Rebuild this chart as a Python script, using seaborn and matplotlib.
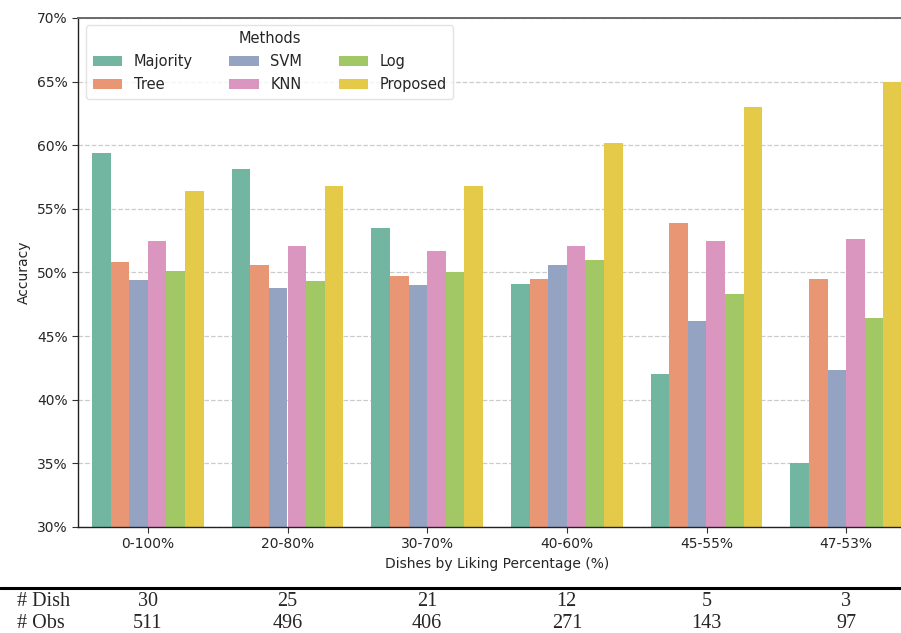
import matplotlib
matplotlib.use("Agg")
import matplotlib.pyplot as plt
import matplotlib.transforms as mtransforms
from matplotlib.ticker import FuncFormatter
import numpy as np
import pandas as pd
import seaborn as sns

# Liking-percentage bins and accuracy (%) per method
bins = ["0-100%", "20-80%", "30-70%", "40-60%", "45-55%", "47-53%"]
methods = ["Majority", "Tree", "SVM", "KNN", "Log", "Proposed"]
majority = [59.4, 58.1, 53.5, 49.1, 42.0, 35.0]
tree = [50.8, 50.6, 49.7, 49.5, 53.9, 49.5]
svm = [49.4, 48.8, 49.0, 50.6, 46.2, 42.3]
knn = [52.5, 52.1, 51.7, 52.1, 52.5, 52.6]
log_reg = [50.1, 49.3, 50.0, 51.0, 48.3, 46.4]
proposed = [56.4, 56.8, 56.8, 60.2, 63.0, 65.0]

# Counts shown under each bin
n_dish = [30, 25, 21, 12, 5, 3]
n_obs = [511, 496, 406, 271, 143, 97]

scores = dict(zip(methods, [majority, tree, svm, knn, log_reg, proposed]))
df = pd.DataFrame(
    [(b, m, scores[m][i]) for m in methods for i, b in enumerate(bins)],
    columns=["bin", "Methods", "acc"],
)

sns.set_style("ticks")
plt.rcParams["font.family"] = ["DejaVu Sans"]

fig = plt.figure(figsize=(9.01, 6.33), dpi=100)
ax = fig.add_axes([78 / 901, 1 - 527 / 633, 838 / 901, 509 / 633])

sns.barplot(data=df, x="bin", y="acc", hue="Methods", order=bins,
            hue_order=methods, palette="Set2", ax=ax, linewidth=0)

ax.set_ylim(30, 70)
ax.set_xlim(-0.5, 5.5)
ax.set_yticks(np.arange(30, 71, 5))
ax.yaxis.set_major_formatter(FuncFormatter(lambda v, p: f"{v:.0f}%"))
ax.yaxis.grid(True, linestyle="--", color="#cccccc", linewidth=0.9)
ax.set_axisbelow(True)
ax.tick_params(axis="both", labelsize=10, length=4, color="#333333",
               labelcolor="#262626")
ax.set_xlabel("Dishes by Liking Percentage (%)", fontsize=10, color="#262626")
ax.set_ylabel("Accuracy", fontsize=10, color="#262626")

for side in ["left", "bottom"]:
    ax.spines[side].set_color("#222222")
    ax.spines[side].set_linewidth(1.0)
ax.spines["top"].set_color("#6a6a6a")
ax.spines["top"].set_linewidth(1.4)
ax.spines["right"].set_visible(False)

leg = ax.legend(title="Methods", ncol=3, loc="upper left",
                bbox_to_anchor=(0.01, 0.987), borderaxespad=0,
                fontsize=10.5, title_fontsize=10.5, frameon=True,
                columnspacing=2.5, handlelength=2.0, handleheight=0.6,
                borderpad=0.45, labelspacing=0.55)
leg.get_frame().set_edgecolor("#dddddd")

# Count table below the chart
serif = ["Liberation Serif", "DejaVu Serif"]
fig.add_artist(plt.Line2D([0, 1], [1 - 588 / 633, 1 - 588 / 633],
                          transform=fig.transFigure, color="black", lw=2.2))
trans = mtransforms.blended_transform_factory(ax.transData, fig.transFigure)
row_y = [1 - 602 / 633, 1 - 624 / 633]
fig.text(17 / 901, row_y[0], "# Dish", family=serif, fontsize=14.5,
         ha="left", va="center")
fig.text(17 / 901, row_y[1], "# Obs", family=serif, fontsize=14.5,
         ha="left", va="center")
for i in range(len(bins)):
    ax.text(i, row_y[0], str(n_dish[i]), transform=trans, family=serif,
            fontsize=14.5, ha="center", va="center", clip_on=False)
    ax.text(i, row_y[1], str(n_obs[i]), transform=trans, family=serif,
            fontsize=14.5, ha="center", va="center", clip_on=False)

fig.savefig("out.png", dpi=100)
